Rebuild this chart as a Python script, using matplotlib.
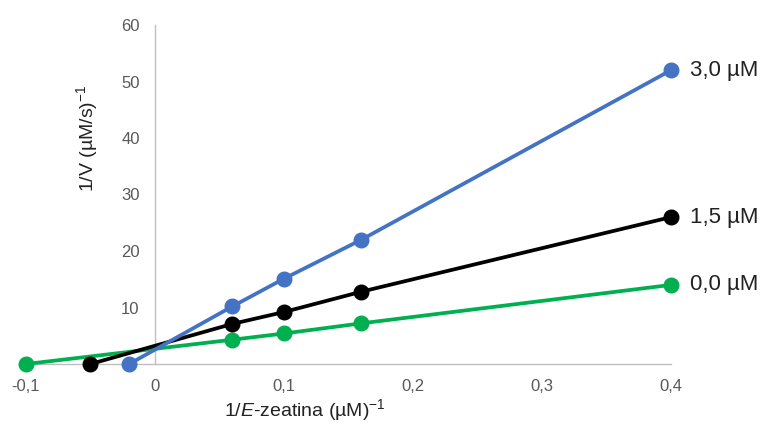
import matplotlib.pyplot as plt

plt.rcParams["font.family"] = ["Liberation Sans", "DejaVu Sans"]
plt.rcParams["mathtext.fontset"] = "custom"
plt.rcParams["mathtext.rm"] = "Liberation Sans"
plt.rcParams["mathtext.it"] = "Liberation Sans:italic"

# Lineweaver-Burk data (1/[E-zeatina] vs 1/V)
x_green = [-0.1, 0.06, 0.1, 0.16, 0.4]
y_green = [0.0, 4.3, 5.4, 7.2, 14.0]
x_black = [-0.05, 0.06, 0.1, 0.16, 0.4]
y_black = [0.0, 7.1, 9.2, 12.8, 26.0]
x_blue = [-0.02, 0.06, 0.1, 0.16, 0.4]
y_blue = [0.0, 10.2, 15.1, 22.0, 52.0]

labels = ["0,0 µM", "1,5 µM", "3,0 µM"]
colors = ["#00b050", "#000000", "#4472c4"]

xticks = [-0.1, 0, 0.1, 0.2, 0.3, 0.4]
xticklabels = ["-0,1", "0", "0,1", "0,2", "0,3", "0,4"]
yticks = [10, 20, 30, 40, 50, 60]

fig = plt.figure(figsize=(7.63, 4.26), dpi=100)
ax = fig.add_axes([26 / 763, 1 - 364 / 426, 645 / 763, 339 / 426])

series = [(x_green, y_green), (x_black, y_black), (x_blue, y_blue)]
for (xs, ys), lab, col in zip(series, labels, colors):
    ax.plot(xs, ys, color=col, lw=2.7, marker="o", ms=10.5, clip_on=False, zorder=3)
    ax.annotate(lab, (xs[-1], ys[-1]), xytext=(14, 0), textcoords="offset points",
                va="center", ha="left", fontsize=16, color="#222222",
                annotation_clip=False)

ax.set_xlim(-0.1, 0.4)
ax.set_ylim(0, 60)

ax.spines["left"].set_position(("data", 0))
ax.spines["bottom"].set_position(("data", 0))
ax.spines["top"].set_visible(False)
ax.spines["right"].set_visible(False)
for s in ("left", "bottom"):
    ax.spines[s].set_color("#bfbfbf")
    ax.spines[s].set_linewidth(1.0)
    ax.spines[s].set_zorder(1)

ax.set_xticks(xticks)
ax.set_xticklabels(xticklabels)
ax.set_yticks(yticks)
ax.tick_params(length=0, labelsize=12, labelcolor="#595959")
ax.tick_params(axis="x", pad=11)
ax.tick_params(axis="y", pad=11)

fig.text(305 / 763, 1 - 410 / 426, r"1/$\mathit{E}$-zeatina (µM)$^{-1}$",
         ha="center", va="center", fontsize=14, color="#222222")
fig.text(87 / 763, 1 - 138 / 426, r"1/V (µM/s)$^{-1}$", rotation=90,
         ha="center", va="center", fontsize=14, color="#222222")

fig.savefig("out.png", dpi=100)
